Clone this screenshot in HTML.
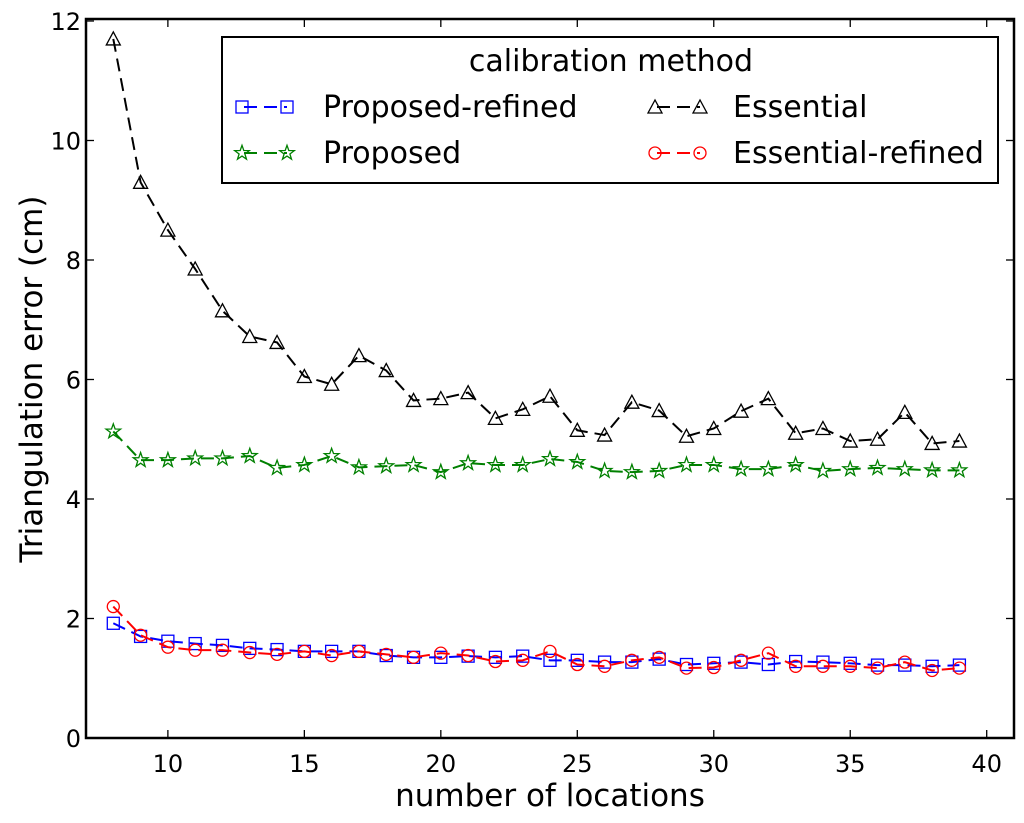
<!DOCTYPE html>
<html><head><meta charset="utf-8"><style>
body{margin:0;background:#fff}
svg text{font-family:"DejaVu Sans","Liberation Sans",sans-serif;fill:#000}
</style></head><body>
<svg id="chart" width="1024" height="818" xmlns="http://www.w3.org/2000/svg">
<g id="marks"></g>
<g id="axes"></g>
<g id="legend">
<rect x="222" y="37" width="776" height="146" fill="#fff" stroke="#000" stroke-width="2"/>
<text x="611" y="71" font-size="30" text-anchor="middle">calibration method</text>
</g>
</svg>
<script>
const xs=[8,9,10,11,12,13,14,15,16,17,18,19,20,21,22,23,24,25,26,27,28,29,30,31,32,33,34,35,36,37,38,39];
const essential=[11.7,9.3,8.5,7.85,7.15,6.72,6.62,6.05,5.92,6.4,6.15,5.65,5.68,5.78,5.35,5.5,5.72,5.15,5.07,5.62,5.48,5.05,5.18,5.47,5.68,5.1,5.18,4.97,5.0,5.45,4.93,4.97];
const proposed=[5.13,4.65,4.65,4.68,4.68,4.72,4.52,4.57,4.72,4.53,4.55,4.57,4.45,4.6,4.57,4.57,4.67,4.62,4.47,4.45,4.47,4.57,4.57,4.5,4.5,4.57,4.47,4.5,4.52,4.5,4.48,4.48];
const proposedRefined=[1.92,1.7,1.62,1.58,1.55,1.5,1.48,1.45,1.45,1.45,1.38,1.35,1.35,1.37,1.35,1.37,1.3,1.3,1.27,1.27,1.32,1.23,1.25,1.27,1.23,1.28,1.27,1.25,1.22,1.22,1.2,1.22];
const essentialRefined=[2.2,1.72,1.52,1.47,1.47,1.43,1.4,1.45,1.38,1.45,1.4,1.35,1.42,1.38,1.28,1.3,1.45,1.23,1.2,1.3,1.35,1.17,1.18,1.3,1.42,1.2,1.2,1.2,1.17,1.27,1.13,1.17];
const xTicks=[10,15,20,25,30,35,40];
const yTicks=[0,2,4,6,8,10,12];
const X0=86,X1=1014,Y0=738,Y1=21,xmin=7,xmax=41,ymin=0,ymax=12;
const sx=v=>X0+(v-xmin)/(xmax-xmin)*(X1-X0);
const sy=v=>Y0-(v-ymin)/(ymax-ymin)*(Y0-Y1);
const NS="http://www.w3.org/2000/svg";
function mk(tag,attrs,parent){const e=document.createElementNS(NS,tag);for(const k in attrs)e.setAttribute(k,attrs[k]);parent.appendChild(e);return e;}
function marker(type,cx,cy,color,s,parent){
 let e;
 if(type==='square')e=mk('rect',{x:cx-s/2,y:cy-s/2,width:s,height:s,fill:'none',stroke:color,'stroke-width':1.3},parent);
 else if(type==='circle')e=mk('circle',{cx:cx,cy:cy,r:s/2,fill:'none',stroke:color,'stroke-width':1.3},parent);
 else if(type==='tri')e=mk('polygon',{points:`${cx},${cy-s/2-1} ${cx-s/2-1},${cy+s/2} ${cx+s/2+1},${cy+s/2}`,fill:'none',stroke:color,'stroke-width':1.3},parent);
 else {let p=[];for(let i=0;i<10;i++){const r=i%2?s*0.22:s*0.55;const a=-Math.PI/2+i*Math.PI/5;p.push((cx+r*Math.cos(a)).toFixed(1)+','+(cy+r*Math.sin(a)).toFixed(1));}
  e=mk('polygon',{points:p.join(' '),fill:'none',stroke:color,'stroke-width':1.3},parent);}
 return e;
}
const series=[
 {name:'essential',vals:essential,color:'#000',m:'tri'},
 {name:'proposed',vals:proposed,color:'#008000',m:'star'},
 {name:'proposed-refined',vals:proposedRefined,color:'#0000ff',m:'square'},
 {name:'essential-refined',vals:essentialRefined,color:'#ff0000',m:'circle'}];
const marks=document.getElementById('marks');
series.forEach(s=>{
 const g=mk('g',{},marks);
 
 
 const pl=mk('polyline',{points:xs.map((x,i)=>sx(x)+','+sy(s.vals[i])).join(' '),fill:'none',stroke:s.color,'stroke-width':2,'stroke-dasharray':'13,7'},g);
 
 
 xs.forEach((x,i)=>{
  const e=marker(s.m,sx(x),sy(s.vals[i]),s.color,s.m==='star'?14:12,g);
  
  
 });
});
const ax=document.getElementById('axes');
const frame=mk('rect',{x:X0,y:Y1-2,width:X1-X0,height:Y0-Y1+2,fill:'none',stroke:'#000','stroke-width':2.5},ax);


xTicks.forEach(t=>{
 mk('line',{x1:sx(t),x2:sx(t),y1:Y0,y2:Y0-8,stroke:'#000','stroke-width':1.3},ax);
 mk('line',{x1:sx(t),x2:sx(t),y1:Y1-2,y2:Y1+6,stroke:'#000','stroke-width':1.3},ax);
 const tx=mk('text',{x:sx(t),y:Y0+34,'font-size':24,'text-anchor':'middle'},ax);tx.textContent=t;
 
 
});
yTicks.forEach(t=>{
 mk('line',{x1:X0,x2:X0+8,y1:sy(t),y2:sy(t),stroke:'#000','stroke-width':1.3},ax);
 mk('line',{x1:X1,x2:X1-8,y1:sy(t),y2:sy(t),stroke:'#000','stroke-width':1.3},ax);
 const tx=mk('text',{x:X0-5,y:sy(t)+9,'font-size':24,'text-anchor':'end'},ax);tx.textContent=t;
 
 
});
const xl=mk('text',{x:550,y:806,'font-size':31,'text-anchor':'middle'},ax);xl.textContent='number of locations';


const yl=mk('text',{x:0,y:0,'font-size':31,'text-anchor':'middle',transform:'translate(42,379) rotate(-90)'},ax);yl.textContent='Triangulation error (cm)';


const leg=document.getElementById('legend');
const entries=[[series[2],242,287,107,'Proposed-refined',323],[series[1],242,287,153,'Proposed',323],[series[0],655,700,107,'Essential',733],[series[3],655,700,153,'Essential-refined',733]];
entries.forEach(([s,a,b,y,label,tx])=>{
 const g=mk('g',{},leg);
 
 
 mk('line',{x1:a,x2:b,y1:y,y2:y,stroke:s.color,'stroke-width':2,'stroke-dasharray':'13,7','stroke-dashoffset':-2},g);
 marker(s.m,a,y,s.color,s.m==='star'?14:12,g);
 marker(s.m,b,y,s.color,s.m==='star'?14:12,g);
 const t=mk('text',{x:tx,y:y+10,'font-size':30},g);t.textContent=label;
});
</script>
</body></html>
